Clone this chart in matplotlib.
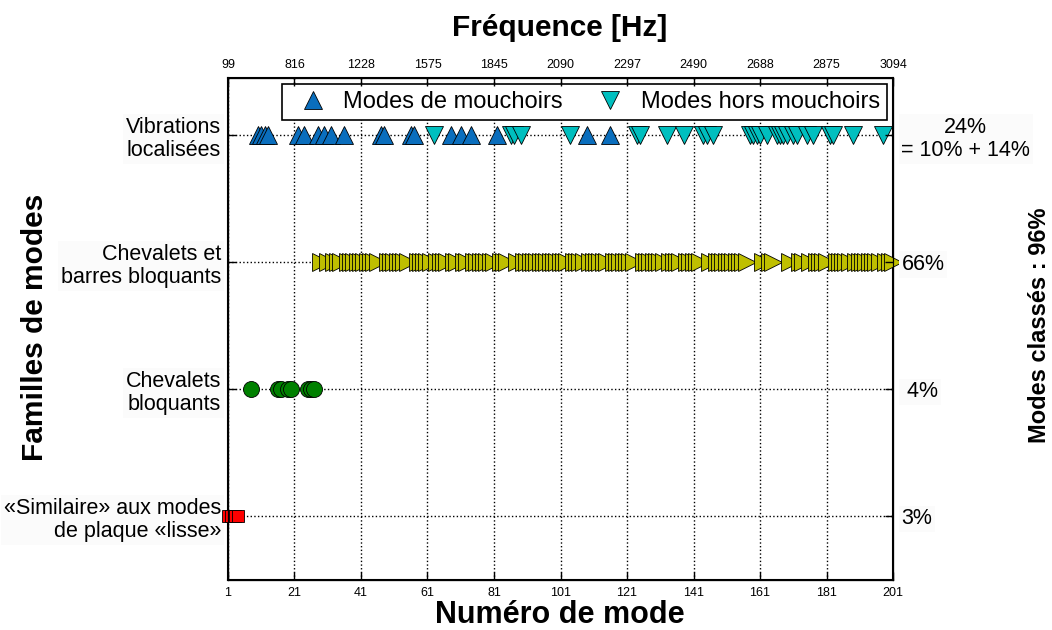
########################################################################################################################
# Familles de modes en fonction du numéro de mode (et de la fréquence)
########################################################################################################################
import numpy as np
from matplotlib import pyplot as plt
########################################################################################################################
# Données

familles = ['«Similaire» aux modes\nde plaque «lisse»', 'Chevalets\nbloquants',
            'Chevalets et\nbarres bloquants', 'Vibrations\nlocalisées']
pourcentages = ['3%', ' 4%', '66%', '24%\n= 10% + 14%']

ticks_mode = [1, 21, 41, 61, 81, 101, 121, 141, 161, 181, 201]
ticks_freq = ['99', '816', '1228', '1575', '1845', '2090', '2297', '2490', '2688', '2875', '3094']

# numéros de mode de chaque famille
modes_lisses = [1, 2, 3, 4]
modes_chevalets = [8, 16, 17, 19, 20, 25, 26, 27]
modes_chev_barres = [29, 31, 33, 34, 35, 37, 38, 39, 40, 41, 42, 43, 44, 45, 46, 49, 50, 51, 52, 53, 54, 55,
                     58, 59, 60, 61, 62, 64, 65, 66, 67, 69, 70, 72, 73, 75, 76, 77, 78, 79, 80, 81, 83, 84,
                     85, 88, 90, 91, 92, 93, 94, 95, 96, 97, 98, 99, 100, 101, 102, 103, 105, 106, 107, 108,
                     110, 111, 112, 113, 114, 115, 117, 118, 119, 120, 121, 122, 123, 126, 127, 128, 129, 130,
                     131, 132, 134, 135, 136, 137, 139, 140, 141, 142, 143, 146, 148, 149, 150, 151, 152, 153,
                     154, 155, 156, 157, 162, 164, 165, 170, 173, 174, 176, 178, 179, 180, 181, 184, 185, 186,
                     187, 188, 190, 191, 192, 193, 194, 195, 196, 197, 199, 200, 201]
modes_mouchoirs = [10, 11, 12, 13, 22, 24, 28, 30, 32, 36, 47, 48, 56, 57, 68, 71, 74, 82, 109, 116]
modes_hors_mouchoirs = [63, 86, 87, 89, 104, 124, 125, 133, 138, 144, 145, 147, 158, 159, 160, 161, 163,
                        166, 167, 168, 169, 171, 172, 175, 177, 182, 183, 189, 198]
########################################################################################################################
# Figure

plt.rcParams['font.family'] = ['Liberation Sans', 'DejaVu Sans']

fig = plt.figure(figsize=(10.52, 6.3), dpi=100)
ax = fig.add_axes([0.2167, 0.0794, 0.6322, 0.7968])

kw = dict(linestyle='none', markeredgecolor='k', markeredgewidth=0.6, clip_on=False, zorder=3)
ax.plot(modes_lisses, np.full(len(modes_lisses), 0), marker='s', markersize=9, color='#ff0000', **kw)
ax.plot(modes_chevalets, np.full(len(modes_chevalets), 1), marker='o', markersize=11.5, color='#008000', **kw)
ax.plot(modes_chev_barres, np.full(len(modes_chev_barres), 2), marker='>', markersize=13, color='#bfbf00', **kw)
l1, = ax.plot(modes_mouchoirs, np.full(len(modes_mouchoirs), 3), marker='^', markersize=13,
              color='#0a6ebd', **kw)
l2, = ax.plot(modes_hors_mouchoirs, np.full(len(modes_hors_mouchoirs), 3), marker='v', markersize=13,
              color='#00bfbf', **kw)

ax.set_xlim(1, 201)
ax.set_ylim(-0.5, 3.45)
ax.set_xticks(ticks_mode)
ax.set_xticklabels([str(t) for t in ticks_mode], fontsize=9)
ax.set_yticks(range(len(familles)))
ax.set_yticklabels(familles, fontsize=15.5, linespacing=1.15)
for lab in ax.get_yticklabels():
    lab.set_bbox(dict(facecolor='#fbfbfb', edgecolor='none', pad=2))
ax.tick_params(direction='in', length=6, width=1, top=False, right=True, pad=5)
ax.grid(True, linestyle=':', color='k', linewidth=1)
ax.set_axisbelow(True)
for s in ax.spines.values():
    s.set_linewidth(1.5)

# axe du haut : fréquences
ax2 = ax.twiny()
ax2.set_xlim(ax.get_xlim())
ax2.set_xticks(ticks_mode)
ax2.set_xticklabels(ticks_freq, fontsize=9)
ax2.tick_params(direction='in', length=6, width=1, pad=5)

# axe de droite : pourcentages
ax3 = ax.twinx()
ax3.set_ylim(ax.get_ylim())
ax3.set_yticks(range(len(pourcentages)))
ax3.set_yticklabels(pourcentages, fontsize=15.5, linespacing=1.15)
ax3.tick_params(direction='in', length=6, width=1, pad=6)
for lab in ax3.get_yticklabels():
    lab.set_multialignment('center')
    lab.set_bbox(dict(facecolor='#fbfbfb', edgecolor='none', pad=2))

leg = ax.legend([l1, l2], ['Modes de mouchoirs', 'Modes hors mouchoirs'], ncol=2, loc='upper right',
                fontsize=17, fancybox=False, edgecolor='k', framealpha=1, borderaxespad=0.25,
                handletextpad=0.3, columnspacing=1.0, numpoints=1, borderpad=0.3)
leg.get_frame().set_linewidth(1.2)
leg.set_zorder(5)

fig.text(0.532, 0.955, 'Fréquence [Hz]', ha='center', va='center', fontsize=21.5, fontweight='bold')
fig.text(0.532, 0.024, 'Numéro de mode', ha='center', va='center', fontsize=22, fontweight='bold')
fig.text(0.033, 0.48, 'Familles de modes', ha='center', va='center', rotation=90, fontsize=21.5,
         fontweight='bold')
fig.text(0.988, 0.484, 'Modes classés : 96%', ha='center', va='center', rotation=90, fontsize=17,
         fontweight='bold')

fig.savefig('out.png', dpi=100)
########################################################################################################################
